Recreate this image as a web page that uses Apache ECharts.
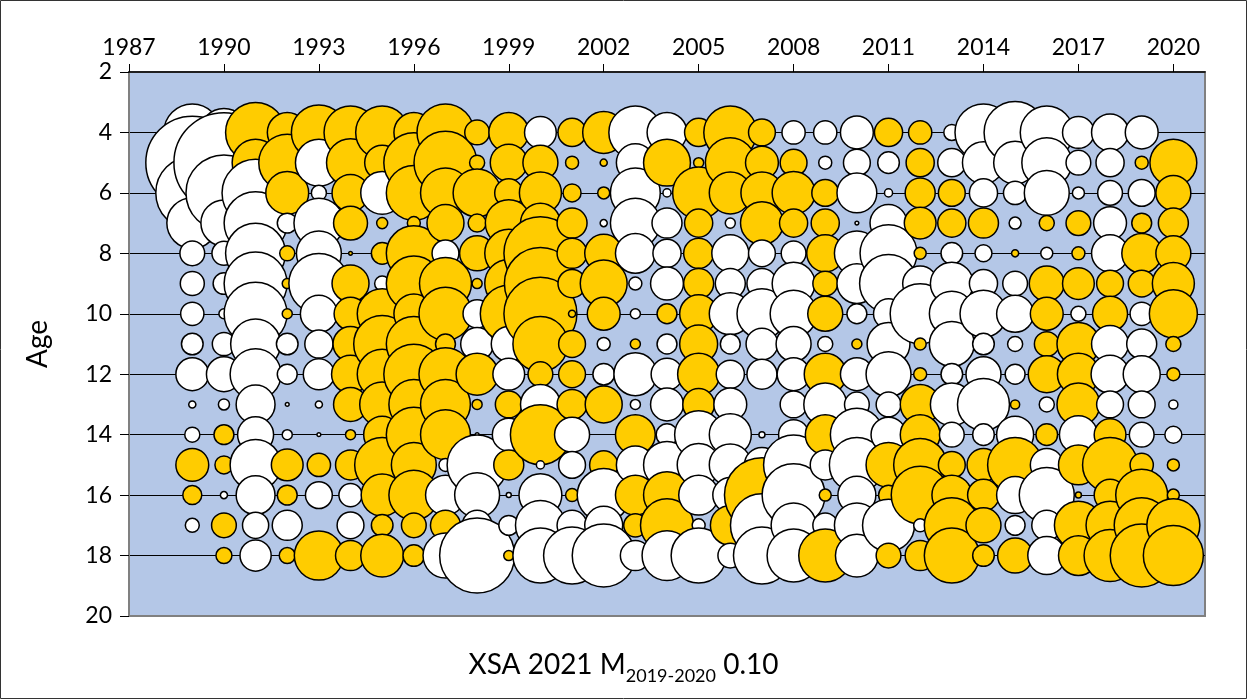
<!DOCTYPE html>
<html>
<head>
<meta charset="utf-8">
<script src="https://cdn.jsdelivr.net/npm/echarts@6/dist/echarts.min.js"></script>
<style>
html,body{margin:0;padding:0;background:#fff;}
#main{width:1247px;height:699px;}
</style>
</head>
<body>
<div id="main"></div>
<script>
// XSA residuals by year (columns) and age 4..18 (rows); + = yellow, - = white
var years = [1989,1990,1991,1992,1993,1994,1995,1996,1997,1998,1999,2000,2001,2002,2003,2004,
             2005,2006,2007,2008,2009,2010,2011,2012,2013,2014,2015,2016,2017,2018,2019,2020];
var ages = [4,5,6,7,8,9,10,11,12,13,14,15,16,17,18];
var yearTicks = [1987,1990,1993,1996,1999,2002,2005,2008,2011,2014,2017,2020];
var ageTicks = [2,4,6,8,10,12,14,16,18,20];

var r1989 = [-0.9,-2.4,-1.48,-0.72,-0.17,-0.16,-0.15,-0.13,-0.3,-0.014,-0.063,0.3,0.1,-0.054,0];
var r1990 = [-0.64,-2.78,-1.6,-0.59,-0.16,-0.13,-0.028,-0.15,-0.34,-0.034,0.11,0.09,-0.014,0.17,0.071];
var r1991 = [1.0,0.61,-1.25,-1.1,-1.0,-1.1,-1.1,-0.69,-0.72,-0.42,-0.36,-0.72,-0.42,-0.19,-0.27];
var r1992 = [0.44,0.9,0.51,-0.11,0.063,0.028,0.028,-0.13,-0.11,-0.004,-0.028,0.28,0.11,-0.25,0.071];
var r1993 = [0.84,-0.61,-0.063,-0.69,-0.56,-1.0,-0.38,-0.22,-0.27,-0.014,-0.004,0.15,-0.2,0,0.67];
var r1994 = [0.78,0.64,0.38,0.32,0.004,0.38,0.3,0.34,0.4,0.32,0.028,0.25,-0.15,-0.2,0.25];
var r1995 = [0.78,0.34,-0.51,0.034,0.13,-0.063,0.69,0.9,0.69,0.56,0.38,0.84,0.49,0.13,0.51];
var r1996 = [0.44,1.0,0.84,0.047,0.84,0.84,0.44,0.84,1.0,0.69,0.84,0.56,0.69,0.17,0.13];
var r1997 = [0.9,1.1,0.69,0.38,-0.2,0.75,0.78,0.11,0.78,0.69,0.69,-0.047,-0.44,0.25,-0.56];
var r1998 = [0.17,0.063,0.64,0.09,0.34,0.028,-0.22,-0.3,0.49,0.028,-0.004,-1.0,-0.56,-0.25,-1.56];
var r1999 = [0.44,0.38,0.22,0.61,0.64,0.64,0.9,-0.34,-0.28,0.2,-0.3,0.25,-0.007,-0.11,0.028];
var r2000 = [-0.28,0.34,0.49,0.44,1.48,1.44,1.48,0.84,0.17,-0.44,1.0,-0.018,-0.51,-0.69,-0.84];
var r2001 = [0.22,0.047,0.09,0.25,0.25,0.22,0.014,0.2,0.2,0.25,-0.34,-0.2,0.047,-0.25,-0.9];
var r2002 = [0.49,0.014,0.04,-0.014,0.4,0.61,0.3,-0.047,-0.13,0.38,0,0.22,-0.78,-0.4,-1.1];
var r2003 = [-0.78,-0.4,-0.69,-0.69,-0.44,-0.047,-0.028,0.028,-0.51,-0.028,0.44,-0.4,0.44,0.15,-0.25];
var r2004 = [-0.44,0.61,-0.018,-0.25,-0.22,-0.3,0.11,-0.11,-0.28,-0.3,-0.13,-0.61,0.61,0.78,-0.69];
var r2005 = [0.22,0.028,0.75,0.22,0.25,0.25,0.4,0.4,0.49,0.28,-0.64,-0.51,-0.44,-0.047,-0.84];
var r2006 = [0.78,0.69,0.49,-0.028,-0.38,-0.25,-0.49,-0.11,-0.22,-0.3,-0.49,-0.49,-0.34,0.44,-0.17];
var r2007 = [0.2,0.3,0.49,0.51,-0.2,-0.25,-0.69,-0.28,-0.25,0,-0.01,-0.34,1.56,-1.1,-0.9];
var r2008 = [-0.15,0.2,0.51,0.22,-0.17,-0.51,-0.61,-0.34,-0.3,-0.2,-0.25,-1.0,-1.1,-0.56,-0.78];
var r2009 = [-0.15,-0.047,0.2,0.22,0.38,0.17,0.34,-0.063,0.49,-0.51,0.44,-0.25,0.04,-0.17,0.78];
var r2010 = [-0.3,-0.2,-0.44,-0.004,-0.56,-0.44,-0.11,0.028,-0.3,-0.17,-0.78,-0.84,-0.4,-0.56,-0.51];
var r2011 = [0.22,-0.13,-0.018,-0.38,-0.9,-0.93,-0.25,-0.51,-0.56,-0.17,-0.34,0.56,0.11,-0.75,0.17];
var r2012 = [0.15,0.22,0.25,0.28,0.04,-0.34,-1.0,0.04,0.047,0.44,0.44,0.78,0.93,-0.047,0.25];
var r2013 = [-0.071,-0.22,0.2,0.22,-0.13,-0.51,-0.56,-0.56,-0.13,-0.51,-0.17,0.2,0.44,0.84,0.84];
var r2014 = [-0.9,-0.49,-0.22,0.25,-0.08,-0.22,-0.61,-0.13,-0.34,-0.75,-0.13,0.3,0.28,0.34,0.13];
var r2015 = [-1.07,-0.51,-0.15,-0.04,0.014,-0.17,-0.38,-0.063,-0.11,0.023,-0.38,0.84,-0.38,-0.11,0.34];
var r2016 = [-0.78,-0.69,-0.56,0.063,-0.04,0.34,0.3,0.17,0.38,-0.063,0.13,-0.3,-0.84,-0.25,-0.4];
var r2017 = [-0.28,-0.17,-0.04,0.17,0.047,0.28,-0.063,0.51,0.49,0.51,-0.4,0.44,0.01,0.64,0.44];
var r2018 = [-0.38,-0.22,-0.17,-0.3,-0.38,0.2,0.34,-0.38,-0.4,-0.2,0.28,0.84,0.28,0.64,0.75];
var r2019 = [-0.3,0.047,-0.2,0.11,0.44,0.2,-0.15,-0.25,-0.38,-0.2,-0.17,0.15,0.75,0.84,1.1];
var r2020 = [0,0.61,0.34,0.25,0.34,0.49,0.64,0.063,0.047,-0.023,-0.08,0.04,0.04,0.78,1.0];

var residuals = [r1989,r1990,r1991,r1992,r1993,r1994,r1995,r1996,r1997,r1998,r1999,r2000,r2001,r2002,
                 r2003,r2004,r2005,r2006,r2007,r2008,r2009,r2010,r2011,r2012,r2013,r2014,r2015,r2016,
                 r2017,r2018,r2019,r2020];

var FONT = 'Lato';

var points = [];
years.forEach(function(y, i){
    ages.forEach(function(a, j){
        var v = residuals[i][j];
        if (v !== 0) points.push([y, a, v]);
    });
});

var myChart = echarts.init(document.getElementById('main'), null, {renderer: 'canvas'});

var option = {
    animation: false,
    backgroundColor: '#fff',
    title: {
        left: 'center',
        top: 640,
        text: '{a|XSA 2021 M}{s|2019-2020}{a| 0.10}',
        textStyle: {
            fontWeight: 'normal',
            rich: {
                a: {fontFamily: FONT, fontSize: 28, fontWeight: 'normal', color: '#000', lineHeight: 40, verticalAlign: 'middle'},
                s: {fontFamily: FONT, fontSize: 18, fontWeight: 'normal', color: '#000', lineHeight: 18, verticalAlign: 'bottom'}
            }
        }
    },
    graphic: [{
        type: 'rect',
        shape: {x: 0.5, y: 0.5, width: 1246, height: 698},
        style: {fill: 'none', stroke: '#333', lineWidth: 1},
        silent: true
    }],
    grid: {
        left: 129, right: 42, top: 72, bottom: 83,
        show: true,
        backgroundColor: '#B4C7E7',
        borderColor: '#808080',
        borderWidth: 2
    },
    xAxis: {
        type: 'value',
        position: 'top',
        min: 1987, max: 2021, interval: 3,
        axisLine: {show: true, lineStyle: {color: '#000', width: 1.5}},
        axisTick: {show: true, inside: false, length: 8, customValues: yearTicks, lineStyle: {color: '#000'}},
        axisLabel: {
            customValues: yearTicks, margin: 13, fontFamily: FONT, fontSize: 23, color: '#000',
            formatter: function(v){ return String(v); }
        },
        splitLine: {show: false}
    },
    yAxis: {
        type: 'value',
        inverse: true,
        min: 2, max: 20, interval: 2,
        name: 'Age',
        nameLocation: 'middle',
        nameGap: 77,
        nameRotate: 90,
        nameTextStyle: {fontFamily: FONT, fontSize: 28, color: '#000'},
        axisLine: {show: true, lineStyle: {color: '#808080', width: 2}},
        axisTick: {show: true, inside: false, length: 9, customValues: ageTicks, lineStyle: {color: '#000'}},
        axisLabel: {customValues: ageTicks, margin: 17, fontFamily: FONT, fontSize: 23, color: '#000'},
        splitLine: {show: true, showMinLine: false, showMaxLine: false, lineStyle: {color: '#000', width: 1}}
    },
    series: [{
        type: 'scatter',
        data: points,
        symbol: 'circle',
        symbolSize: function(v){ return 60 * Math.sqrt(Math.abs(v[2])); },
        itemStyle: {
            color: function(p){ return p.value[2] > 0 ? '#FFCC00' : '#FFFFFF'; },
            borderColor: '#000',
            borderWidth: 1.5,
            opacity: 1
        },
        emphasis: {disabled: true}
    }]
};

myChart.setOption(option);
</script>
</body>
</html>
